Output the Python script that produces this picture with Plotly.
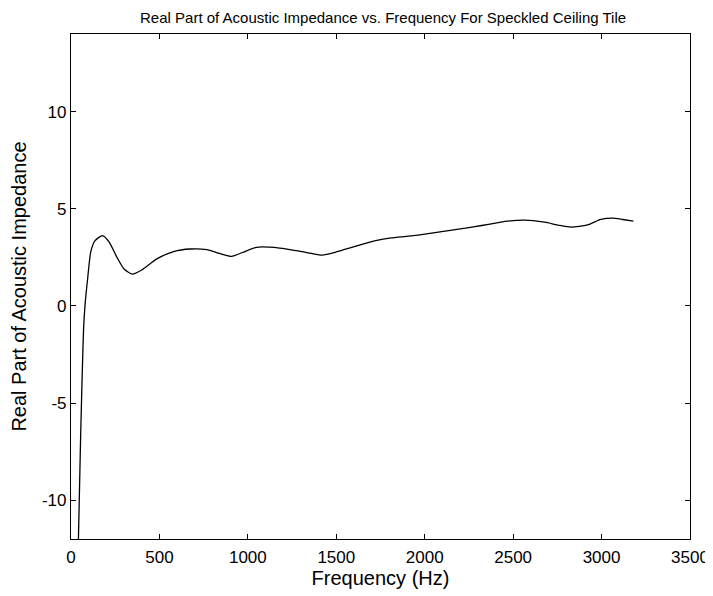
import plotly.graph_objects as go

# Frequency (Hz) and real part of acoustic impedance
freq = [42, 55, 65, 71, 79, 94, 112, 135, 178, 215, 260, 300, 346, 400, 485,
        580, 674, 768, 840, 908, 970, 1049, 1180, 1292, 1360, 1421, 1500, 1573,
        1650, 1723, 1810, 1910, 2020, 2135, 2230, 2322, 2400, 2453, 2565, 2678,
        2760, 2827, 2921, 2996, 3062, 3120, 3180]
real_z = [-12.0, -6.5, -3.0, -1.2, 0.0, 1.4, 2.8, 3.35, 3.62, 3.3, 2.5, 1.9, 1.64, 1.85, 2.42,
          2.8, 2.93, 2.9, 2.7, 2.55, 2.75, 3.02, 2.98, 2.82, 2.7, 2.62, 2.78, 2.97,
          3.18, 3.36, 3.5, 3.59, 3.72, 3.88, 4.0, 4.14, 4.26, 4.35, 4.42, 4.31,
          4.15, 4.06, 4.17, 4.45, 4.52, 4.45, 4.37]

x_ticks = [0, 500, 1000, 1500, 2000, 2500, 3000, 3500]
y_ticks = [-10, -5, 0, 5, 10]
y_labels = ['-10', '-5', '0', '5', '10']

fig = go.Figure(go.Scatter(
    x=freq, y=real_z, mode='lines',
    line=dict(color='black', width=1.3, shape='spline', smoothing=0.6),
    showlegend=False))

axis_style = dict(showline=True, linecolor='black', linewidth=1.2, mirror='ticks',
                  ticks='inside', ticklen=5, tickcolor='black', showgrid=False,
                  zeroline=False, automargin=False, tickfont=dict(size=17, color='black'))

# page body has an 8px margin, so the figure is sized to fit the window
fig.update_layout(
    width=705, height=588,
    margin=dict(l=63, r=23, t=26, b=57),
    paper_bgcolor='white', plot_bgcolor='white',
    font=dict(family='Liberation Sans, Arial, sans-serif', color='black'),
    title=dict(text='Real Part of Acoustic Impedance vs. Frequency For Speckled Ceiling Tile',
               x=0.532, xanchor='center', y=0.984, yanchor='middle', font=dict(size=15)),
    xaxis=dict(range=[0, 3500], tickvals=x_ticks, ticklabelstandoff=2,
               title=dict(text='Frequency (Hz)', font=dict(size=20), standoff=3), **axis_style),
    yaxis=dict(range=[-12, 14], tickvals=y_ticks, ticktext=y_labels,
               title=dict(text='Real Part of Acoustic Impedance', font=dict(size=20), standoff=14),
               **axis_style),
)

fig.write_html("out.html")
